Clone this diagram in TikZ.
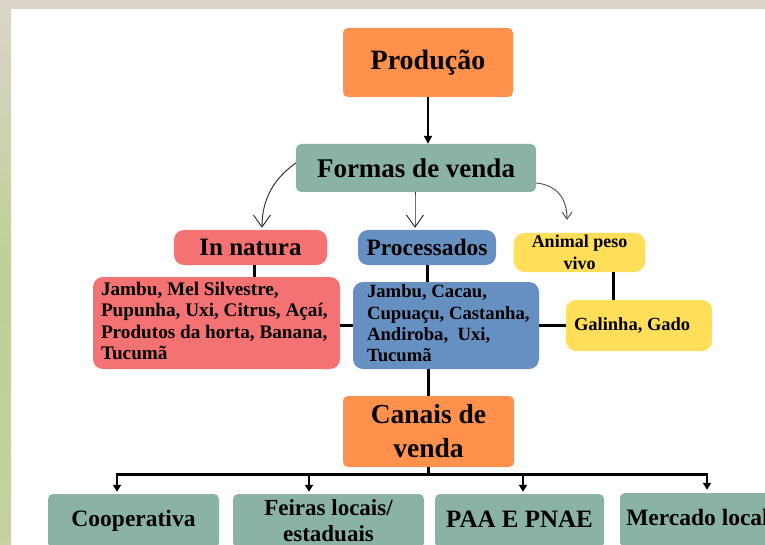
\documentclass[tikz,border=0pt]{standalone}
\usepackage{fontspec}
\setmainfont{Liberation Serif}
\usetikzlibrary{arrows.meta}
\definecolor{corange}{HTML}{FF914D}
\definecolor{csage}{HTML}{8AB3A6}
\definecolor{csalmon}{HTML}{F47272}
\definecolor{cblue}{HTML}{6690C2}
\definecolor{cyellow}{HTML}{FFDE59}
\definecolor{cbeige}{HTML}{DAD4C8}
\definecolor{cgreen}{HTML}{BDD095}
\tikzset{
  box/.style={rounded corners=5pt, inner sep=2pt, align=center, font=\bfseries},
  pill/.style={rounded corners=10pt, inner sep=2pt, align=center, font=\bfseries},
  thickline/.style={line width=3pt},
  curvearrow/.style={line width=0.9pt, draw=black!85, -{Straight Barb[length=12pt,width=17pt]}},
  downarrow/.style={line width=2.2pt, -{Triangle[length=7pt,width=8pt]}}
}
\begin{document}
\begin{tikzpicture}[x=1pt,y=-1pt]
\useasboundingbox (0,0) rectangle (765,545);
\clip (0,0) rectangle (765,545);
% background
\fill[cbeige] (0,0) rectangle (765,545);
\shade[top color=cbeige, bottom color=cgreen!70!cbeige, middle color=cgreen] (0,9) rectangle (11,545);
\fill[white] (11,9) rectangle (765,545);

% nodes
\node[box, fill=corange, minimum width=170, minimum height=69, font=\bfseries\fontsize{28}{30}\selectfont] (prod) at (428,62.5) {Produção};
\node[box, fill=csage, minimum width=240, minimum height=48, font=\bfseries\fontsize{27}{29}\selectfont] (formas) at (416,168) {Formas de venda};
\node[pill, fill=csalmon, minimum width=153, minimum height=35, font=\bfseries\fontsize{25}{27}\selectfont] (innat) at (250.5,247.5) {In natura};
\node[pill, fill=cblue, minimum width=138, minimum height=35, font=\bfseries\fontsize{23.5}{26}\selectfont] (proc) at (427,247.5) {Processados};
\node[pill, fill=cyellow, minimum width=131, minimum height=39, font=\bfseries\fontsize{18}{22}\selectfont] (animal) at (579.5,252.5) {Animal peso\\vivo};
\node[pill, fill=csalmon, minimum width=247, minimum height=92, inner sep=0pt, font=\bfseries\fontsize{19.2}{21.5}\selectfont] (innatlist) at (216.5,323) {\makebox[247pt][l]{\hspace{8pt}\begin{tabular}{@{}l@{}}Jambu, Mel Silvestre,\\Pupunha, Uxi, Citrus, Açaí,\\Produtos da horta, Banana,\\Tucumã\end{tabular}}};
\node[pill, fill=cblue, minimum width=186, minimum height=87, inner sep=0pt, font=\bfseries\fontsize{18.7}{21.3}\selectfont] (proclist) at (446,325.5) {\makebox[186pt][l]{\hspace{14pt}\begin{tabular}{@{}l@{}}Jambu, Cacau,\\Cupuaçu, Castanha,\\Andiroba,\ \ Uxi,\\Tucumã\end{tabular}}};
\node[pill, fill=cyellow, minimum width=146, minimum height=51, inner sep=0pt, font=\bfseries\fontsize{18.5}{21}\selectfont] (galinha) at (639,325.5) {\makebox[146pt][l]{\hspace{8pt}Galinha, Gado}};
\node[box, fill=corange, minimum width=171, minimum height=71, font=\bfseries\fontsize{27.5}{34}\selectfont] (canais) at (428.5,431.5) {Canais de\\venda};
\node[box, fill=csage, minimum width=171, minimum height=54, font=\bfseries\fontsize{23.5}{26}\selectfont] (coop) at (133.5,521) {\raisebox{4pt}{Cooperativa}};
\node[box, fill=csage, minimum width=191, minimum height=54, font=\bfseries\fontsize{23}{26}\selectfont] (feiras) at (328.5,521) {Feiras locais/\\estaduais};
\node[box, fill=csage, minimum width=169, minimum height=54, font=\bfseries\fontsize{25}{27}\selectfont] (paa) at (519.5,521) {\raisebox{4pt}{PAA E PNAE}};
\node[box, fill=csage, minimum width=155, minimum height=54, font=\bfseries\fontsize{23.5}{26}\selectfont] (merc) at (697.5,520) {\raisebox{6pt}{Mercado local}};

% connectors
\draw[line width=2pt, -{Triangle[length=8pt,width=8pt]}] (prod.south) -- (prod.south |- formas.north);
\draw[curvearrow] ([yshift=5]formas.west) .. controls +(-21,15) and +(0,-30) .. ([xshift=11.5,yshift=2]innat.north);
\draw[curvearrow] ([xshift=-1]formas.south) .. controls +(0,12) and +(0,-10) .. ([xshift=-12,yshift=2]proc.north);
\draw[line width=0.9pt, draw=black!70, -{Straight Barb[length=7pt,width=10pt]}] ([yshift=-15]formas.east) .. controls +(20,2) and +(0,-22) .. ([xshift=-12.5,yshift=13]animal.north);

\draw[thickline] ([xshift=3.5]innat.south) -- ([xshift=3.5]innat.south |- innatlist.north);
\draw[thickline] (proc.south) -- (proc.south |- proclist.north);
\draw[thickline] ([xshift=33.5]animal.south) -- ([xshift=33.5]animal.south |- galinha.north);
\draw[thickline] (innatlist.east |- proclist.center) -- (proclist.west);
\draw[thickline] (proclist.east) -- (galinha.west);
\draw[thickline] (proclist.south -| canais.north) -- (canais.north);

\coordinate (bus) at ([yshift=-7]canais.south);
\coordinate (b1) at (117,474);
\coordinate (b2) at (309,474);
\coordinate (b3) at (523,474);
\coordinate (b4) at (707,474);
\draw[line width=2.2pt] (canais.south) -- (bus);
\draw[line width=3pt] ([xshift=-1.1]b1) -- ([xshift=1.1]b4);
\draw[downarrow] (b1) -- ([yshift=2]b1 |- coop.north);
\draw[downarrow] (b2) -- ([yshift=2]b2 |- feiras.north);
\draw[downarrow] (b3) -- ([yshift=2]b3 |- paa.north);
\draw[downarrow] (b4) -- ([yshift=3]b4 |- merc.north);
\end{tikzpicture}
\end{document}
